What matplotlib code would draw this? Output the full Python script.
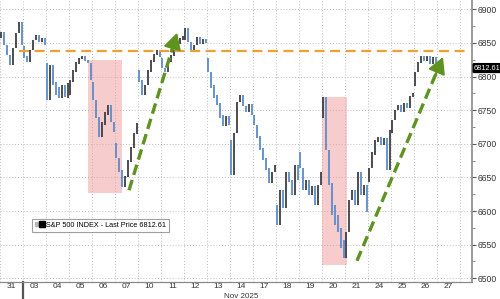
import numpy as np
import matplotlib
matplotlib.use("Agg")
import matplotlib.pyplot as plt
import matplotlib.transforms as mtransforms
from matplotlib.lines import Line2D
from matplotlib.legend_handler import HandlerTuple
from matplotlib.patches import Rectangle

plt.rcParams['font.family'] = ['Liberation Sans', 'DejaVu Sans']

# trading days shown on the x axis (27 = Thanksgiving, no bars)
day_labels = ['31', '03', '04', '05', '06', '07', '10', '11', '12', '13',
              '14', '17', '18', '19', '20', '21', '24', '25', '26', '27']

# intraday bars: open / close of each bar, per day
opens = [
    [6857, 6866, 6847, 6832, 6820, 6842, 6865, 6878],
    [6845, 6830, 6825, 6839, 6854, 6860, 6851, 6856],
    [6820, 6798, 6807, 6792, 6784, 6770, 6786, 6768],
    [6773, 6792, 6807, 6819, 6826, 6829, 6825, 6820],
    [6792, 6765, 6740, 6713, 6728, 6743, 6753, 6732],
    [6701, 6679, 6661, 6639, 6651, 6673, 6694, 6715],
    [6810, 6795, 6775, 6787, 6807, 6822, 6832, 6839],
    [6828, 6813, 6810, 6822, 6831, 6839, 6848, 6854],
    [6854, 6869, 6851, 6839, 6847, 6857, 6848, 6856],
    [6828, 6807, 6787, 6773, 6761, 6743, 6729, 6740],
    [6706, 6661, 6716, 6762, 6771, 6756, 6749, 6759],
    [6743, 6728, 6712, 6694, 6679, 6664, 6643, 6658],
    [6609, 6582, 6628, 6607, 6655, 6646, 6627, 6665],
    [6688, 6664, 6634, 6643, 6627, 6637, 6612, 6639],
    [6738, 6765, 6691, 6642, 6609, 6594, 6575, 6557],
    [6530, 6569, 6616, 6628, 6612, 6654, 6627, 6634],
    [6643, 6664, 6683, 6703, 6709, 6700, 6706, 6668],
    [6716, 6735, 6750, 6756, 6747, 6759, 6753, 6770],
    [6786, 6807, 6820, 6829, 6823, 6829, 6823, 6828],
]
closes = [
    [6866, 6847, 6832, 6817, 6842, 6865, 6881, 6847],
    [6828, 6822, 6839, 6854, 6862, 6851, 6857, 6847],
    [6765, 6817, 6787, 6773, 6768, 6787, 6770, 6790],
    [6795, 6810, 6822, 6828, 6831, 6823, 6820, 6795],
    [6765, 6738, 6710, 6732, 6747, 6758, 6732, 6717],
    [6679, 6658, 6636, 6652, 6676, 6695, 6716, 6731],
    [6792, 6773, 6787, 6810, 6825, 6834, 6839, 6829],
    [6813, 6807, 6822, 6832, 6839, 6848, 6857, 6860],
    [6872, 6851, 6839, 6847, 6859, 6848, 6856, 6850],
    [6807, 6783, 6768, 6758, 6738, 6726, 6741, 6728],
    [6654, 6716, 6762, 6773, 6756, 6747, 6759, 6743],
    [6728, 6709, 6691, 6676, 6661, 6642, 6658, 6668],
    [6579, 6631, 6604, 6658, 6643, 6624, 6668, 6646],
    [6664, 6631, 6646, 6624, 6637, 6609, 6639, 6658],
    [6770, 6691, 6639, 6594, 6579, 6569, 6545, 6530],
    [6569, 6616, 6631, 6609, 6658, 6624, 6639, 6598],
    [6664, 6688, 6706, 6710, 6698, 6709, 6661, 6721],
    [6735, 6750, 6758, 6747, 6761, 6753, 6771, 6776],
    [6807, 6822, 6831, 6823, 6831, 6819, 6829, 6813],
]
last_price = 6812.61
resistance = 6838.6

# annotations (day units / index points)
shade_days = [(3.84, 5.32), (14.01, 15.07)]
shade_prices = [(6627, 6824), (6520, 6769)]
arrow_from = [(5.61, 6631), (15.52, 6526)]
arrow_to = [(7.70, 6865), (19.26, 6829)]

up_col = '#3d3f44'
dn_col = '#5b8bc9'
green = '#5f9320'

fig = plt.figure(figsize=(5, 2.99), dpi=100)
ax = fig.add_axes([0, 17 / 299, 472 / 500, 282 / 299])

# bars: each bar covers its own open/close and the previous close of the day
xs, lo, hi, cols = [], [], [], []
for d, (od, cd) in enumerate(zip(opens, closes)):
    n = len(od)
    prev = None
    for k, (o, c) in enumerate(zip(od, cd)):
        pts = [o, c] if prev is None else [o, c, prev]
        xs.append(d + (k + 0.5) / n)
        lo.append(min(pts))
        hi.append(max(pts))
        cols.append(up_col if c >= o else dn_col)
        prev = c
ax.vlines(xs, lo, hi, colors=cols, lw=1.3, zorder=3)

# shaded boxes
for (x0, x1), (y0, y1) in zip(shade_days, shade_prices):
    ax.add_patch(Rectangle((x0, y0), x1 - x0, y1 - y0, facecolor='#ef9a9a',
                           alpha=0.5, edgecolor='none', zorder=2))

# resistance line
ax.plot([0.83, 20.3], [resistance, resistance], color='#f0a032', lw=1.6,
        ls=(0, (4.5, 2.5)), zorder=4)

# green arrows
for (x0, y0), (x1, y1) in zip(arrow_from, arrow_to):
    ax.plot([x0, x0 + (x1 - x0) * 0.93], [y0, y0 + (y1 - y0) * 0.93],
            color=green, lw=2.4, ls=(0, (3.2, 1.6)), zorder=5)
    ax.annotate('', xy=(x1, y1),
                xytext=(x0 + (x1 - x0) * 0.9, y0 + (y1 - y0) * 0.9),
                arrowprops=dict(arrowstyle='-|>,head_length=0.55,head_width=0.3',
                                color=green, lw=1.5, mutation_scale=18,
                                shrinkA=0, shrinkB=0), zorder=6)

ax.set_xlim(0, 20.52)
ax.set_ylim(6494.5, 6913.8)

# grid / ticks
ax.set_xticks(np.arange(0, 21))
ax.set_xticklabels([])
ax.set_xticks(np.arange(20) + 0.5, minor=True)
ax.set_xticklabels(day_labels, minor=True)
ax.tick_params(axis='x', which='both', length=0, labelsize=6,
               colors='#333333', pad=1)
ax.yaxis.tick_right()
ax.set_yticks(np.arange(6500, 6901, 50))
ax.set_yticks(np.arange(6500, 6901, 25), minor=True)
ax.tick_params(axis='y', which='major', length=3, width=0.8, color='#555555',
               labelsize=6.2, labelcolor='#333333', pad=1)
ax.tick_params(axis='y', which='minor', length=2, width=0.6, color='#777777')
ax.grid(which='major', color='#bdbdbd', lw=0.7, ls=(0, (1, 2)))

for s in ['top', 'left']:
    ax.spines[s].set_visible(False)
ax.spines['right'].set_color('#8a8a8a')
ax.spines['right'].set_linewidth(1.2)
ax.spines['bottom'].set_color('#8a8a8a')
ax.spines['bottom'].set_linewidth(0.9)

# month separator and label
bt = mtransforms.blended_transform_factory(ax.transData, ax.transAxes)
ax.plot([1, 1], [0, -0.065], color='#555555', lw=1.6, transform=bt,
        clip_on=False)
ax.text(10.5, -0.05, 'Nov 2025', transform=bt, fontsize=5.8, ha='center',
        va='center', color='#333333')

# last price tag
ty = mtransforms.blended_transform_factory(ax.transAxes, ax.transData)
ax.annotate(f'{last_price:.2f}', xy=(1.0, last_price), xycoords=ty,
            xytext=(1.5, 0), textcoords='offset points', fontsize=5.3,
            color='white', va='center', ha='left', annotation_clip=False,
            bbox=dict(boxstyle='round,pad=0.12', fc='black', ec='black'))

# legend
h = (Line2D([], [], marker='s', ls='none', color='#b5b5b5', ms=3.2),
     Line2D([], [], marker='s', ls='none', color='black', ms=4.5))
leg = ax.legend([h], [f'S&P 500 INDEX - Last Price {last_price:.2f}'],
                handler_map={tuple: HandlerTuple(ndivide=None, pad=0.1)},
                loc='upper left', bbox_to_anchor=(32 / 472, 1 - 219 / 282),
                borderaxespad=0, fontsize=5.2, frameon=True, fancybox=False,
                handlelength=1.3, handletextpad=0.3, borderpad=0.4)
leg.get_frame().set_edgecolor('#888888')
leg.get_frame().set_linewidth(0.8)

fig.savefig('out.png', dpi=100)
